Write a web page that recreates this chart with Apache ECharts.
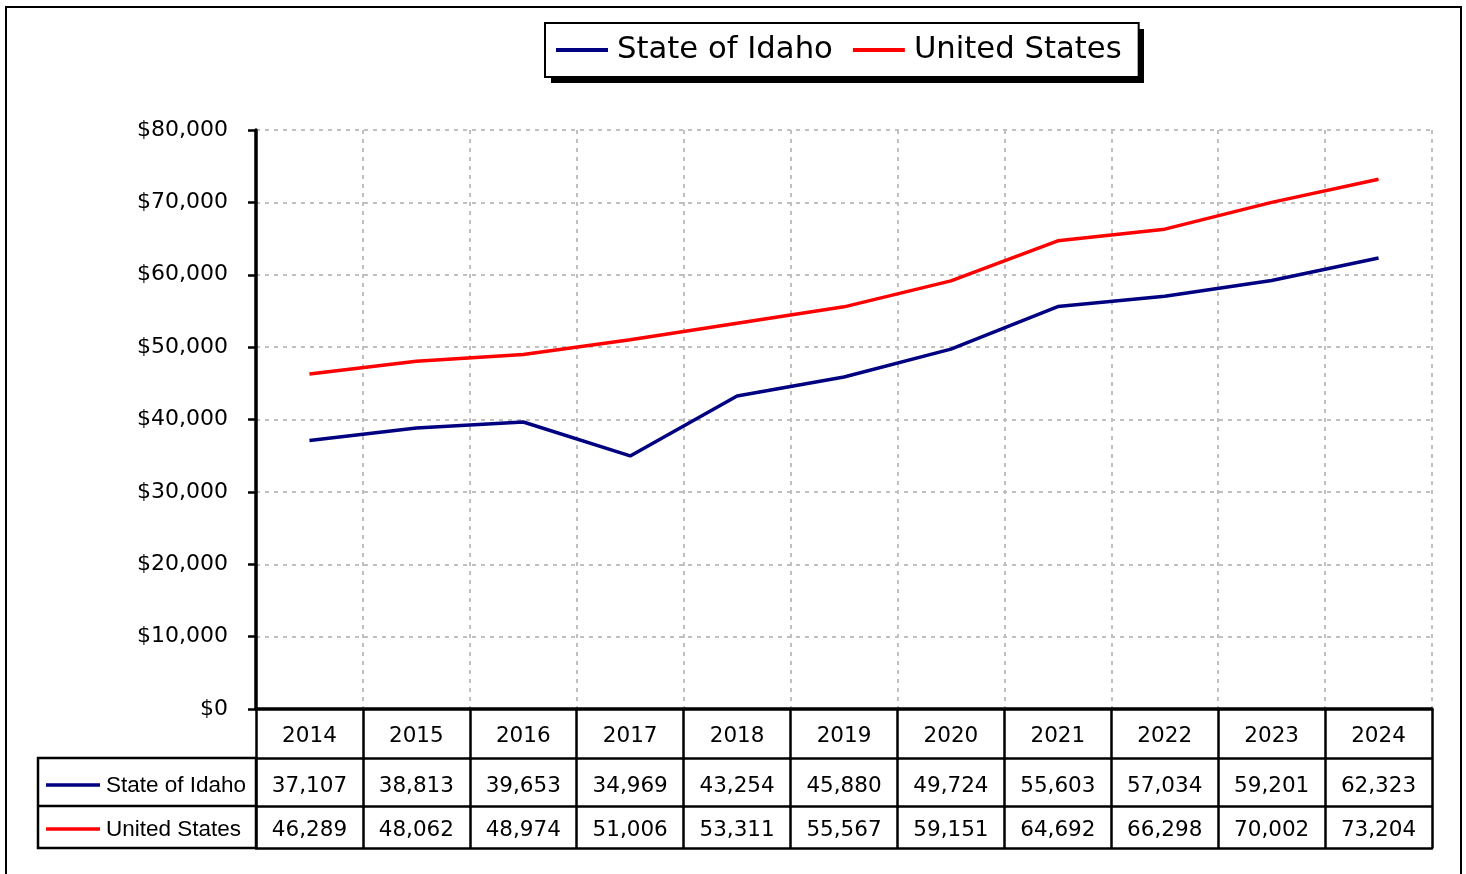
<!DOCTYPE html>
<html>
<head>
<meta charset="utf-8">
<script src="https://cdn.jsdelivr.net/npm/echarts@6/dist/echarts.min.js"></script>
<style>
  html, body { margin: 0; padding: 0; background: #fff; }
  #chart { width: 1466px; height: 874px; }
</style>
</head>
<body>
<div id="chart"></div>
<script>
var years = ['2014', '2015', '2016', '2017', '2018', '2019', '2020', '2021', '2022', '2023', '2024'];
var idaho = [37107, 38813, 39653, 34969, 43254, 45880, 49724, 55603, 57034, 59201, 62323];
var usa = [46289, 48062, 48974, 51006, 53311, 55567, 59151, 64692, 66298, 70002, 73204];
var seriesNames = ['State of Idaho', 'United States'];
var seriesColors = ['#000080', '#ff0000'];

var numFont = 'DejaVu Sans';
var textFont = 'Liberation Sans';

function fmt(v) {
	return v.toLocaleString('en-US');
}

var myChart = echarts.init(document.getElementById('chart'));

// extra category axes used as the data table rows under the plot
function tableAxis(data, offset, margin, showLabel) {
	return {
		type: 'category',
		position: 'bottom',
		offset: offset,
		data: data,
		boundaryGap: true,
		axisLine: { show: true, lineStyle: { color: '#000', width: 2.5 } },
		axisTick: { show: false },
		splitLine: { show: false },
		axisLabel: {
			show: showLabel,
			interval: 0,
			margin: margin,
			verticalAlign: 'middle',
			color: '#000',
			fontFamily: numFont,
			fontSize: 21.5
		}
	};
}

var option = {
	animation: false,
	backgroundColor: '#fff',
	legend: {
		left: 545,
		top: 23,
		z: 10,
		data: seriesNames,
		icon: 'rect',
		itemWidth: 52,
		itemHeight: 4,
		itemGap: 20,
		padding: [9, 17, 9, 11],
		backgroundColor: '#fff',
		borderColor: '#000',
		borderWidth: 2,
		textStyle: {
			fontFamily: numFont,
			fontSize: 30.7,
			color: '#000',
			lineHeight: 36,
			padding: [0, 0, 0, 4]
		}
	},
	grid: {
		left: 256,
		right: 34,
		top: 130,
		bottom: 165,
		containLabel: false
	},
	xAxis: [
		{
			type: 'category',
			position: 'bottom',
			data: years,
			boundaryGap: true,
			axisLine: { show: true, lineStyle: { color: '#000', width: 3.5 } },
			axisTick: { show: true, interval: 0, length: 139, lineStyle: { color: '#000', width: 2.5 } },
			splitLine: { show: true, interval: 0, lineStyle: { color: '#c0c0c0', width: 2, type: [4, 5] } },
			axisLabel: {
				interval: 0,
				margin: 27,
				verticalAlign: 'middle',
				color: '#000',
				fontFamily: numFont,
				fontSize: 21.5
			}
		},
		tableAxis(idaho.map(fmt), 49, 28, true),
		tableAxis(usa.map(fmt), 97, 24, true),
		tableAxis(years, 139, 10, false)
	],
	yAxis: {
		type: 'value',
		min: 0,
		max: 80000,
		interval: 10000,
		axisLine: { show: true, lineStyle: { color: '#000', width: 3.5 } },
		axisTick: { show: true, length: 8, lineStyle: { color: '#000', width: 2.5 } },
		splitLine: { show: true, lineStyle: { color: '#c0c0c0', width: 2, type: [4, 5] } },
		axisLabel: {
			margin: 28,
			color: '#000',
			fontFamily: numFont,
			fontSize: 22,
			formatter: function (v) { return '$' + fmt(v); }
		}
	},
	series: [
		{
			name: seriesNames[0],
			type: 'line',
			data: idaho,
			symbol: 'none',
			color: seriesColors[0],
			lineStyle: { width: 3.5, color: seriesColors[0] }
		},
		{
			name: seriesNames[1],
			type: 'line',
			data: usa,
			symbol: 'none',
			color: seriesColors[1],
			lineStyle: { width: 3.5, color: seriesColors[1] }
		}
	],
	graphic: [
		// outer frame
		{ type: 'rect', shape: { x: 6, y: 7, width: 1455, height: 880 }, style: { fill: null, stroke: '#000', lineWidth: 2 }, z: 100 },
		// legend drop shadow
		{ type: 'rect', shape: { x: 551, y: 29, width: 593, height: 54 }, style: { fill: '#000' }, z: 1 },
		// left column of the data table
		{ type: 'rect', shape: { x: 38, y: 758, width: 218, height: 90 }, style: { fill: null, stroke: '#000', lineWidth: 2.5 }, z: 100 },
		{ type: 'line', shape: { x1: 38, y1: 806, x2: 256, y2: 806 }, style: { stroke: '#000', lineWidth: 2.5 }, z: 100 },
		{ type: 'line', shape: { x1: 46, y1: 785, x2: 100, y2: 785 }, style: { stroke: seriesColors[0], lineWidth: 3.5 }, z: 100 },
		{ type: 'line', shape: { x1: 46, y1: 829, x2: 100, y2: 829 }, style: { stroke: seriesColors[1], lineWidth: 3.5 }, z: 100 },
		{ type: 'text', x: 106, y: 786, style: { text: seriesNames[0], fontFamily: textFont, fontSize: 22.5, fill: '#000', verticalAlign: 'middle' }, z: 100 },
		{ type: 'text', x: 106, y: 830, style: { text: seriesNames[1], fontFamily: textFont, fontSize: 22.5, fill: '#000', verticalAlign: 'middle' }, z: 100 }
	]
};

myChart.setOption(option);
</script>
</body>
</html>
